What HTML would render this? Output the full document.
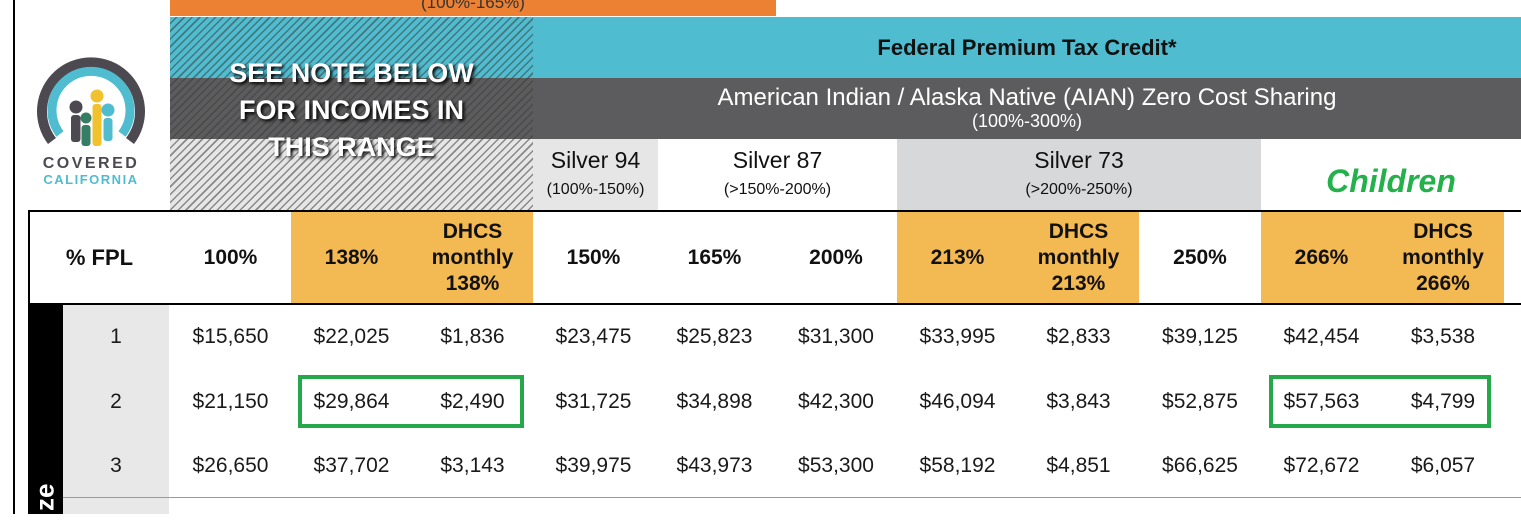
<!DOCTYPE html>
<html><head><meta charset="utf-8"><style>
body{margin:0;width:1521px;height:514px;overflow:hidden;background:#fff;font-family:"Liberation Sans",sans-serif;position:relative}
div{position:absolute;box-sizing:border-box}
.c{text-align:center;display:flex;align-items:center;justify-content:center;flex-direction:column}
.h{font-weight:bold;font-size:21px;color:#111;line-height:26px}
.v{font-size:21px;color:#1a1a1a}
.hatch{background-image:repeating-linear-gradient(135deg,rgba(0,0,0,0) 0 4px,rgba(60,60,60,.55) 4px 5.5px)}
</style></head><body>
<div style="left:13px;top:0;width:2px;height:514px;background:#000"></div>
<div style="left:170px;top:0;width:606px;height:16px;background:#ec8133;font-size:17px;color:#333;text-align:center;line-height:6px">(100%-165%)</div>
<div style="left:170px;top:17px;width:1351px;height:61px;background:#4fbccf"></div>
<div style="left:170px;top:78px;width:1351px;height:61px;background:#5c5c5e"></div>
<div style="left:170px;top:139px;width:363px;height:72px;background:#e6e6e6"></div>
<div class="hatch" style="left:170px;top:17px;width:363px;height:194px"></div>
<div class="c" style="left:170px;top:50px;width:363px;height:120px;color:#fff;font-weight:bold;font-size:27px;line-height:37px;text-shadow:2px 2px 3px #000">SEE NOTE BELOW<br>FOR INCOMES IN<br>THIS RANGE</div>
<div class="c" style="left:533px;top:17px;width:988px;height:61px;font-weight:bold;font-size:22px;color:#111">Federal Premium Tax Credit*</div>
<div class="c" style="left:533px;top:78px;width:988px;height:61px;color:#fff;font-size:24px;line-height:24px">American Indian / Alaska Native (AIAN) Zero Cost Sharing<span style="font-size:18px;line-height:22px">(100%-300%)</span></div>
<div class="c" style="left:533px;top:139px;width:125px;height:72px;background:#e6e6e6;font-size:23px;line-height:30px;color:#111">Silver 94<span style="font-size:16px">(100%-150%)</span></div>
<div class="c" style="left:658px;top:139px;width:239px;height:72px;font-size:23px;line-height:30px;color:#111">Silver 87<span style="font-size:16px">(&gt;150%-200%)</span></div>
<div class="c" style="left:897px;top:139px;width:364px;height:72px;background:#d7d8da;font-size:23px;line-height:30px;color:#111">Silver 73<span style="font-size:16px">(&gt;200%-250%)</span></div>
<div class="c" style="left:1261px;top:139px;width:260px;height:84px;color:#24b04b;font-weight:bold;font-style:italic;font-size:32px">Children</div>
<!-- logo -->
<svg style="position:absolute;left:30px;top:45px" width="125" height="145" viewBox="0 0 125 145">
<path d="M22 96 A49 49 0 1 1 100 96" fill="none" stroke="#4c4a50" stroke-width="10"/>
<path d="M30 89 A39 39 0 1 1 92 89" fill="none" stroke="#4fbccf" stroke-width="9"/>
<circle cx="46" cy="62" r="6.5" fill="#4c4a50"/><rect x="41" y="70" width="9.5" height="27" rx="3" fill="#4c4a50"/>
<circle cx="56" cy="73" r="5.5" fill="#357d64"/><rect x="51.5" y="80" width="9" height="21" rx="3" fill="#357d64"/>
<circle cx="67" cy="51" r="6.5" fill="#f2c12e"/><rect x="62.5" y="59" width="9" height="42" rx="3" fill="#f2c12e"/>
<circle cx="78" cy="65" r="6.5" fill="#4fbccf"/><rect x="73.5" y="73" width="9" height="23" rx="3" fill="#4fbccf"/>
<text x="61" y="123" text-anchor="middle" font-family="Liberation Sans" font-weight="bold" font-size="16" letter-spacing="2.5" fill="#4c4a50">COVERED</text>
<text x="61" y="139" text-anchor="middle" font-family="Liberation Sans" font-weight="bold" font-size="13" letter-spacing="1.5" fill="#4fbccf">CALIFORNIA</text>
</svg>
<!-- header row -->
<div style="left:28px;top:210px;width:1493px;height:2px;background:#000"></div>
<div style="left:28px;top:303px;width:1493px;height:2px;background:#000"></div>
<div style="left:28px;top:210px;width:2px;height:95px;background:#000"></div>
<div style="left:291px;top:212px;width:242px;height:91px;background:#f3b952"></div>
<div style="left:897px;top:212px;width:242px;height:91px;background:#f3b952"></div>
<div style="left:1261px;top:212px;width:243px;height:91px;background:#f3b952"></div>
<div class="c h" style="left:30px;top:212px;width:139px;height:91px;font-size:22px">% FPL</div>
<div class="c h" style="left:170px;top:212px;width:121px;height:91px">100%</div>
<div class="c h" style="left:291px;top:212px;width:121px;height:91px">138%</div>
<div class="c h" style="left:412px;top:212px;width:121px;height:91px">DHCS<br>monthly<br>138%</div>
<div class="c h" style="left:533px;top:212px;width:121px;height:91px">150%</div>
<div class="c h" style="left:654px;top:212px;width:121px;height:91px">165%</div>
<div class="c h" style="left:775px;top:212px;width:122px;height:91px">200%</div>
<div class="c h" style="left:897px;top:212px;width:121px;height:91px">213%</div>
<div class="c h" style="left:1018px;top:212px;width:121px;height:91px">DHCS<br>monthly<br>213%</div>
<div class="c h" style="left:1139px;top:212px;width:122px;height:91px">250%</div>
<div class="c h" style="left:1261px;top:212px;width:121px;height:91px">266%</div>
<div class="c h" style="left:1382px;top:212px;width:122px;height:91px">DHCS<br>monthly<br>266%</div>
<!-- body -->
<div style="left:28px;top:305px;width:35px;height:209px;background:#000"></div>
<div style="left:15px;top:482px;width:60px;height:35px;color:#fff;font-weight:bold;font-size:26px;line-height:35px;text-align:right;padding-right:14px;transform:rotate(-90deg)">ze</div>
<div style="left:63px;top:305px;width:106px;height:209px;background:#e8e8e8"></div>
<div style="left:63px;top:497px;width:1458px;height:1px;background:#999"></div>
<div id="rows"></div>
<div style="left:298px;top:375px;width:226px;height:53px;border:4px solid #24a84a"></div>
<div style="left:1269px;top:375px;width:222px;height:53px;border:4px solid #24a84a"></div>
<script>
var xs=[[63,106],[170,121],[291,121],[412,121],[533,121],[654,121],[775,122],[897,121],[1018,121],[1139,122],[1261,121],[1382,122]];
var d=[["1","$15,650","$22,025","$1,836","$23,475","$25,823","$31,300","$33,995","$2,833","$39,125","$42,454","$3,538"],
["2","$21,150","$29,864","$2,490","$31,725","$34,898","$42,300","$46,094","$3,843","$52,875","$57,563","$4,799"],
["3","$26,650","$37,702","$3,143","$39,975","$43,973","$53,300","$58,192","$4,851","$66,625","$72,672","$6,057"]];
var ys=[337,402,466],h="";
for(var r=0;r<3;r++)for(var i=0;i<12;i++)h+='<div class="c v" style="left:'+xs[i][0]+'px;top:'+(ys[r]-16)+'px;width:'+xs[i][1]+'px;height:32px">'+d[r][i]+'</div>';
document.getElementById("rows").outerHTML=h;
</script>
</body></html>
